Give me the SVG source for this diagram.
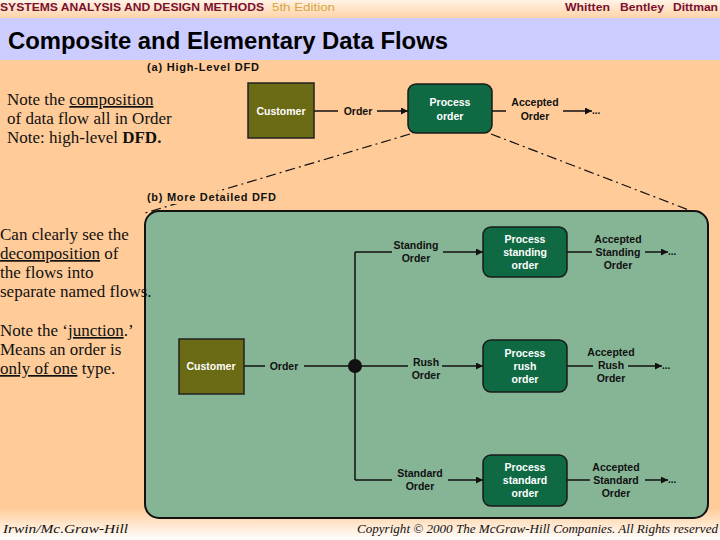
<svg xmlns="http://www.w3.org/2000/svg" width="720" height="540" viewBox="0 0 720 540">
<defs>
<linearGradient id="topg" x1="0" y1="0" x2="0" y2="1"><stop offset="0" stop-color="#FFF3E6"/><stop offset="1" stop-color="#FFD3A8"/></linearGradient>
<linearGradient id="botg" x1="0" y1="0" x2="0" y2="1"><stop offset="0" stop-color="#FFCC99"/><stop offset="1" stop-color="#FFFFFF"/></linearGradient>
<marker id="ah" viewBox="0 0 10 10" refX="10" refY="5" markerWidth="8" markerHeight="7" markerUnits="userSpaceOnUse" orient="auto"><path d="M0,0 L10,5 L0,10 z" fill="#111"/></marker>
<style>
.hdr{font-family:"Liberation Sans",Arial,sans-serif;font-size:11.5px;font-weight:bold;fill:#7A1030}
.ed{font-family:"Liberation Sans",Arial,sans-serif;font-size:11.5px;fill:#D9A441}
.title{font-family:"Liberation Sans",Arial,sans-serif;font-size:24px;font-weight:bold;fill:#000}
.sub{font-family:"Liberation Sans",Arial,sans-serif;font-size:11px;font-weight:bold;fill:#111}
.note{font-family:"Liberation Serif","Times New Roman",serif;font-size:17px;fill:#111}
.foot{font-family:"Liberation Serif","Times New Roman",serif;font-style:italic;font-size:13px;fill:#111}
.ext{fill:#6B6B16;stroke:#222;stroke-width:1.5}
.proc{fill:#0F6A44;stroke:#1A1A1A;stroke-width:1.5}
.wl{font-family:"Liberation Sans",Arial,sans-serif;font-size:10.5px;font-weight:bold;fill:#FFFFFF;text-anchor:middle}
.fl{font-family:"Liberation Sans",Arial,sans-serif;font-size:10.5px;font-weight:bold;fill:#111;text-anchor:middle}
.ln{stroke:#111;stroke-width:1.5;fill:none}
.arr{stroke:#111;stroke-width:1.5;fill:none;marker-end:url(#ah)}
.dd{stroke:#111;stroke-width:1.2;fill:none;stroke-dasharray:10 4 2 4}
.dots{font-family:"Liberation Sans",Arial,sans-serif;font-size:10px;font-weight:bold;fill:#111}
</style>
</defs>
<rect x="0" y="0" width="720" height="540" fill="#FFCC99"/>
<rect x="0" y="0" width="720" height="18" fill="url(#topg)"/>
<rect x="0" y="18" width="720" height="42" fill="#CCCCFF"/>
<rect x="0" y="508" width="720" height="32" fill="url(#botg)"/>

<text class="hdr" x="0" y="11" textLength="264" lengthAdjust="spacingAndGlyphs">SYSTEMS ANALYSIS AND DESIGN METHODS</text>
<text class="ed" x="272" y="11" textLength="63" lengthAdjust="spacingAndGlyphs">5th Edition</text>
<text class="hdr" x="565" y="11" textLength="45" lengthAdjust="spacingAndGlyphs">Whitten</text>
<text class="hdr" x="620" y="11" textLength="44" lengthAdjust="spacingAndGlyphs">Bentley</text>
<text class="hdr" x="673" y="11" textLength="45" lengthAdjust="spacingAndGlyphs">Dittman</text>
<text class="title" x="8" y="49" textLength="440" lengthAdjust="spacingAndGlyphs">Composite and Elementary Data Flows</text>

<g id="connectors">
<line class="dd" x1="410" y1="134" x2="145" y2="213"/>
<line class="dd" x1="491" y1="134" x2="694" y2="212"/>
</g>

<g id="label-a"><text class="sub" x="147" y="71" textLength="112" lengthAdjust="spacing">(a) High-Level DFD</text></g>
<g id="label-b"><rect x="146" y="191" width="132" height="13" fill="#FFCC99"/><text class="sub" x="147" y="201" textLength="129" lengthAdjust="spacing">(b) More Detailed DFD</text></g>

<g id="panel-b"><rect x="145" y="211" width="563" height="307" rx="14" ry="14" fill="#86B596" stroke="#111" stroke-width="2"/></g>

<g id="connectors-flows">
<line class="ln" x1="314" y1="111" x2="338" y2="111"/>
<line class="arr" x1="377" y1="111" x2="408" y2="111"/>
<line class="ln" x1="492" y1="111" x2="506" y2="111"/>
<line class="arr" x1="563" y1="111" x2="592" y2="111"/>

<line class="ln" x1="244" y1="366" x2="265" y2="366"/>
<line class="ln" x1="304" y1="366" x2="350" y2="366"/>
<line class="ln" x1="355" y1="252" x2="355" y2="480"/>
<line class="ln" x1="355" y1="252" x2="392" y2="252"/>
<line class="arr" x1="443" y1="252" x2="483" y2="252"/>
<line class="ln" x1="355" y1="366" x2="408" y2="366"/>
<line class="arr" x1="442" y1="366" x2="483" y2="366"/>
<line class="ln" x1="355" y1="480" x2="392" y2="480"/>
<line class="arr" x1="448" y1="480" x2="483" y2="480"/>

<line class="ln" x1="567" y1="252" x2="592" y2="252"/>
<line class="arr" x1="645" y1="252" x2="668" y2="252"/>
<line class="ln" x1="567" y1="366" x2="593" y2="366"/>
<line class="arr" x1="628" y1="366" x2="662" y2="366"/>
<line class="ln" x1="567" y1="480" x2="590" y2="480"/>
<line class="arr" x1="645" y1="480" x2="668" y2="480"/>
<circle cx="355" cy="366" r="7" fill="#111"/>
</g>

<g id="customer-a"><rect class="ext" x="248" y="83" width="66" height="55"/><text class="wl" x="281" y="115">Customer</text></g>
<g id="process-order"><rect class="proc" x="408" y="84" width="84" height="49" rx="8" ry="8"/><text class="wl" x="450" y="106">Process</text><text class="wl" x="450" y="120">order</text></g>
<g id="flow-labels-a">
<text class="fl" x="358" y="115">Order</text>
<text class="fl" x="535" y="106">Accepted</text><text class="fl" x="535" y="120">Order</text>
<text class="dots" x="592" y="114">...</text>
</g>

<g id="customer-b"><rect class="ext" x="179" y="339" width="65" height="55"/><text class="wl" x="211" y="370">Customer</text></g>
<g id="process-standing"><rect class="proc" x="483" y="227" width="84" height="50" rx="8" ry="8"/><text class="wl" x="525" y="243">Process</text><text class="wl" x="525" y="256">standing</text><text class="wl" x="525" y="269">order</text></g>
<g id="process-rush"><rect class="proc" x="483" y="340" width="84" height="52" rx="8" ry="8"/><text class="wl" x="525" y="357">Process</text><text class="wl" x="525" y="370">rush</text><text class="wl" x="525" y="383">order</text></g>
<g id="process-standard"><rect class="proc" x="483" y="455" width="84" height="51" rx="8" ry="8"/><text class="wl" x="525" y="471">Process</text><text class="wl" x="525" y="484">standard</text><text class="wl" x="525" y="497">order</text></g>

<g id="flow-labels-b">
<text class="fl" x="284" y="370">Order</text>
<text class="fl" x="416" y="249">Standing</text><text class="fl" x="416" y="262">Order</text>
<text class="fl" x="426" y="366">Rush</text><text class="fl" x="426" y="379">Order</text>
<text class="fl" x="420" y="477">Standard</text><text class="fl" x="420" y="490">Order</text>
<text class="fl" x="618" y="243">Accepted</text><text class="fl" x="618" y="256">Standing</text><text class="fl" x="618" y="269">Order</text>
<text class="fl" x="611" y="356">Accepted</text><text class="fl" x="611" y="369">Rush</text><text class="fl" x="611" y="382">Order</text>
<text class="fl" x="616" y="471">Accepted</text><text class="fl" x="616" y="484">Standard</text><text class="fl" x="616" y="497">Order</text>
<text class="dots" x="668" y="255">...</text>
<text class="dots" x="662" y="369">...</text>
<text class="dots" x="668" y="483">...</text>
</g>

<g id="notes">
<text class="note" x="7" y="105">Note the <tspan text-decoration="underline">composition</tspan></text>
<text class="note" x="7" y="124">of data flow all in Order</text>
<text class="note" x="7" y="143">Note:  high-level <tspan font-weight="bold">DFD.</tspan></text>
<text class="note" x="0" y="240">Can clearly see the</text>
<text class="note" x="0" y="259"><tspan text-decoration="underline">decomposition</tspan> of</text>
<text class="note" x="0" y="278">the flows into</text>
<text class="note" x="0" y="297">separate named flows.</text>
<text class="note" x="0" y="336">Note the ‘<tspan text-decoration="underline">junction</tspan>.’</text>
<text class="note" x="0" y="355">Means an order is</text>
<text class="note" x="0" y="374"><tspan text-decoration="underline">only of one</tspan> type.</text>
</g>

<g id="footer">
<text class="foot" x="3" y="533" textLength="125" lengthAdjust="spacingAndGlyphs">Irwin/Mc.Graw-Hill</text>
<text class="foot" x="357" y="533" textLength="361" lengthAdjust="spacingAndGlyphs">Copyright © 2000 The McGraw-Hill Companies. All Rights reserved</text>
</g>
</svg>
